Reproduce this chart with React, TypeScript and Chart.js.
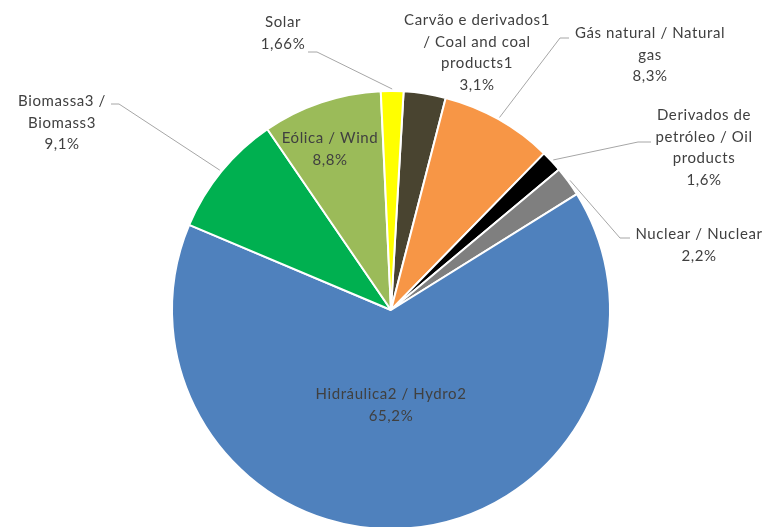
import React, { useEffect, useRef } from "react";
import { Chart, registerables } from "chart.js";

Chart.register(...registerables);

// ---- data ----
const categories: string[][] = [
  ["Carvão e derivados1", "/ Coal and coal", "products1"],
  ["Gás natural / Natural", "gas"],
  ["Derivados de", "petróleo / Oil", "products"],
  ["Nuclear / Nuclear"],
  ["Hidráulica2 / Hydro2"],
  ["Biomassa3 /", "Biomass3"],
  ["Eólica / Wind"],
  ["Solar"],
];
const shares: number[] = [3.1, 8.3, 1.6, 2.2, 65.2, 9.1, 8.8, 1.66];
const colors: string[] = [
  "#494430",
  "#F79646",
  "#000000",
  "#7F7F7F",
  "#4F81BD",
  "#00B050",
  "#9BBB59",
  "#FFFF00",
];

// ---- label layout (positions only) ----
type Layout = { x: number; y: number; start?: [number, number]; bend?: [number, number] };
const labelLayout: Layout[] = [
  { x: 477, y: 20 },
  { x: 650, y: 33, start: [569, 38], bend: [560, 38] },
  { x: 704, y: 115, start: [651, 142], bend: [638, 142] },
  { x: 699, y: 234, start: [630, 238], bend: [620, 238] },
  { x: 391, y: 394 },
  { x: 62, y: 101, start: [111, 104], bend: [119, 104] },
  { x: 330, y: 138 },
  { x: 283, y: 22, start: [308, 52], bend: [317, 52] },
];

const LINE_H = 21.8;

const fmt = (v: number) => v.toString().replace(".", ",") + "%";

const labelPlugin = {
  id: "excelLabels",
  afterDatasetsDraw(chart: any) {
    const ctx = chart.ctx as CanvasRenderingContext2D;
    const meta = chart.getDatasetMeta(0);
    ctx.save();
    meta.data.forEach((arc: any, i: number) => {
      const lay = labelLayout[i];
      if (lay.start && lay.bend) {
        const mid = (arc.startAngle + arc.endAngle) / 2;
        const r = arc.outerRadius + 2;
        const ex = arc.x + Math.cos(mid) * r;
        const ey = arc.y + Math.sin(mid) * r;
        ctx.beginPath();
        ctx.strokeStyle = "#A6A6A6";
        ctx.lineWidth = 1;
        ctx.moveTo(lay.start[0], lay.start[1]);
        ctx.lineTo(lay.bend[0], lay.bend[1]);
        ctx.lineTo(ex, ey);
        ctx.stroke();
      }
      const lines = [...categories[i], fmt(shares[i])];
      ctx.fillStyle = "#404040";
      ctx.font = "15px Lato";
      (ctx as any).letterSpacing = "0.6px";
      ctx.textAlign = "center";
      ctx.textBaseline = "middle";
      lines.forEach((t, k) => {
        ctx.fillText(t, lay.x, lay.y + k * LINE_H);
      });
    });
    ctx.restore();
  },
};

export default function App() {
  const ref = useRef<HTMLCanvasElement | null>(null);
  useEffect(() => {
    if (!ref.current) return;
    const chart = new Chart(ref.current, {
      type: "pie",
      data: {
        labels: categories.map((c) => c.join(" ")),
        datasets: [
          {
            data: shares,
            backgroundColor: colors,
            borderColor: "#FFFFFF",
            borderWidth: 2,
          },
        ],
      },
      options: {
        responsive: false,
        animation: false,
        rotation: 3.3,
        layout: { padding: { left: 171, right: 155, top: 90, bottom: 10 } },
        plugins: {
          legend: { display: false },
          tooltip: { enabled: false },
        },
        events: [],
      },
      plugins: [labelPlugin],
    });
    return () => chart.destroy();
  }, []);
  return (
    <div
      style={{
        position: "fixed",
        left: 0,
        top: 0,
        width: 766,
        height: 527,
        overflow: "hidden",
        background: "#FFFFFF",
      }}
    >
      <canvas ref={ref} width={766} height={540} style={{ display: "block" }} />
    </div>
  );
}
